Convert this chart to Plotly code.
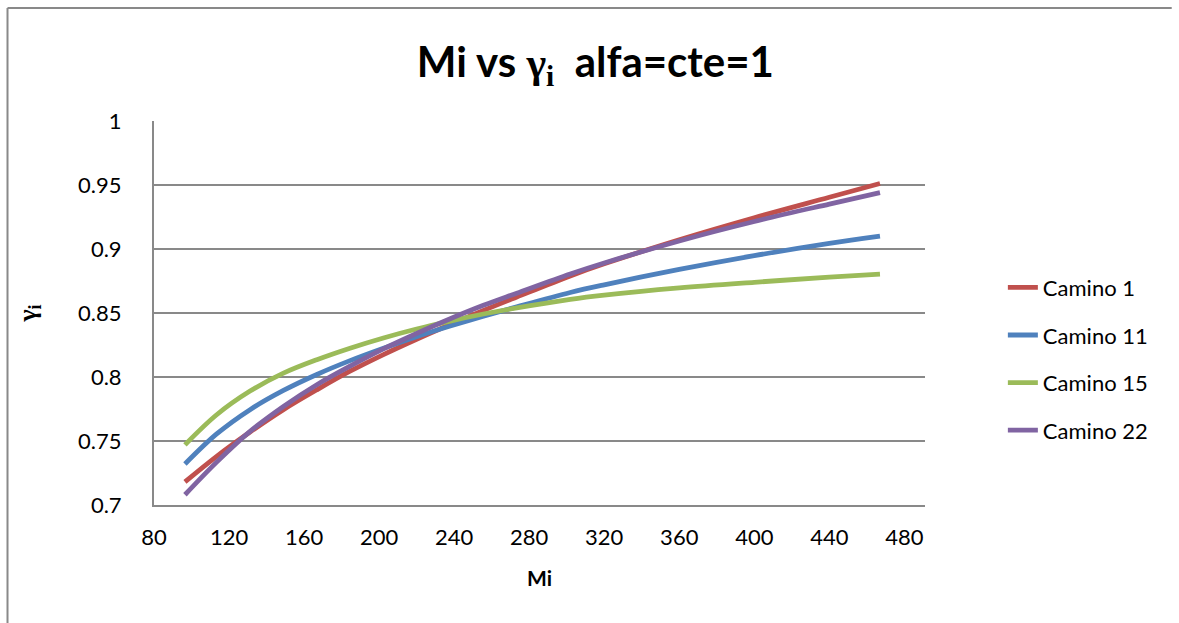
import plotly.graph_objects as go

mi = [96.5, 113.4, 131.2, 149.0, 166.8, 184.5, 202.3, 220.0, 237.9, 255.6, 273.4, 301.9, 320, 360, 400, 440, 467]

camino_1 = [0.718, 0.738, 0.757, 0.7745, 0.790, 0.8045, 0.8175, 0.8295, 0.841, 0.852, 0.8625, 0.879, 0.8884, 0.9072, 0.9244, 0.9404, 0.9512]
camino_11 = [0.732, 0.7555, 0.7745, 0.7895, 0.802, 0.8128, 0.8225, 0.8315, 0.8398, 0.8475, 0.8548, 0.866, 0.872, 0.884, 0.8948, 0.9044, 0.9100]
camino_15 = [0.747, 0.7705, 0.789, 0.803, 0.8135, 0.8225, 0.8305, 0.8375, 0.8437, 0.8492, 0.854, 0.8607, 0.864, 0.8696, 0.874, 0.878, 0.8804]
camino_22 = [0.708, 0.7335, 0.7575, 0.777, 0.794, 0.8085, 0.822, 0.834, 0.8455, 0.856, 0.8655, 0.8805, 0.8891, 0.9063, 0.9215, 0.9351, 0.9440]

series = [
    ("Camino 1", camino_1, "#C0504D"),
    ("Camino 11", camino_11, "#4F81BD"),
    ("Camino 15", camino_15, "#9BBB59"),
    ("Camino 22", camino_22, "#8064A2"),
]

x_ticks = [80, 120, 160, 200, 240, 280, 320, 360, 400, 440, 480]
y_ticks = [0.7, 0.75, 0.8, 0.85, 0.9, 0.95, 1.0]
y_labels = ["0.7", "0.75", "0.8", "0.85", "0.9", "0.95", "1"]

FONT = "Lato, Open Sans, sans-serif"
SERIF = "Liberation Serif"

fig = go.Figure()
for name, ys, col in series:
    fig.add_trace(go.Scatter(
        x=mi, y=ys, mode="lines", name=name, legendgroup=name,
        line=dict(color=col, width=4.8, shape="spline", smoothing=1.0),
    ))

fig.update_layout(
    width=1179, height=623,
    margin=dict(l=154, r=254, t=121, b=118),
    paper_bgcolor="white", plot_bgcolor="white",
    font=dict(family=FONT, size=22, color="black"),
    title=dict(
        text='<b>Mi vs <span style="font-family:Liberation Serif">γ<sub>i</sub></span>  alfa=cte=1</b>',
        x=0.505, xanchor="center", y=0.9, yanchor="middle",
        font=dict(family=FONT, size=42, color="black"),
    ),
    showlegend=True,
    legend=dict(
        x=1.101, xanchor="left", y=0.38, yanchor="middle",
        font=dict(family=FONT, size=22, color="black"),
        traceorder="grouped", tracegroupgap=16,
        bgcolor="rgba(0,0,0,0)",
    ),
    xaxis=dict(
        range=[80, 491], tickvals=x_ticks, ticktext=[str(v) for v in x_ticks],
        showgrid=False, zeroline=False,
        showline=True, linecolor="#898989", linewidth=2,
        ticks="", ticklabelstandoff=12,
        tickfont=dict(family=FONT, size=22, color="black"),
        title=dict(text="<b>Mi</b>", font=dict(family=FONT, size=21, color="black"), standoff=22),
    ),
    yaxis=dict(
        range=[0.7, 1.0], tickvals=y_ticks, ticktext=y_labels,
        showgrid=True, gridcolor="#898989", gridwidth=2,
        zeroline=False,
        showline=True, linecolor="#898989", linewidth=2,
        ticks="", ticklabelstandoff=26,
        tickfont=dict(family=FONT, size=22, color="black"),
        title=dict(text='<b>γ<sub>i</sub></b>',
                   font=dict(family=SERIF, size=26, color="black"), standoff=34),
    ),
    shapes=[
        dict(type="line", xref="paper", yref="paper", x0=-0.190, x1=1.32, y0=1.294, y1=1.294,
             line=dict(color="#898989", width=2), layer="below"),
        dict(type="line", xref="paper", yref="paper", x0=-0.190, x1=-0.190, y0=-0.31, y1=1.294,
             line=dict(color="#898989", width=2), layer="below"),
    ],
)

fig.write_html("out.html", config={"displayModeBar": False})
